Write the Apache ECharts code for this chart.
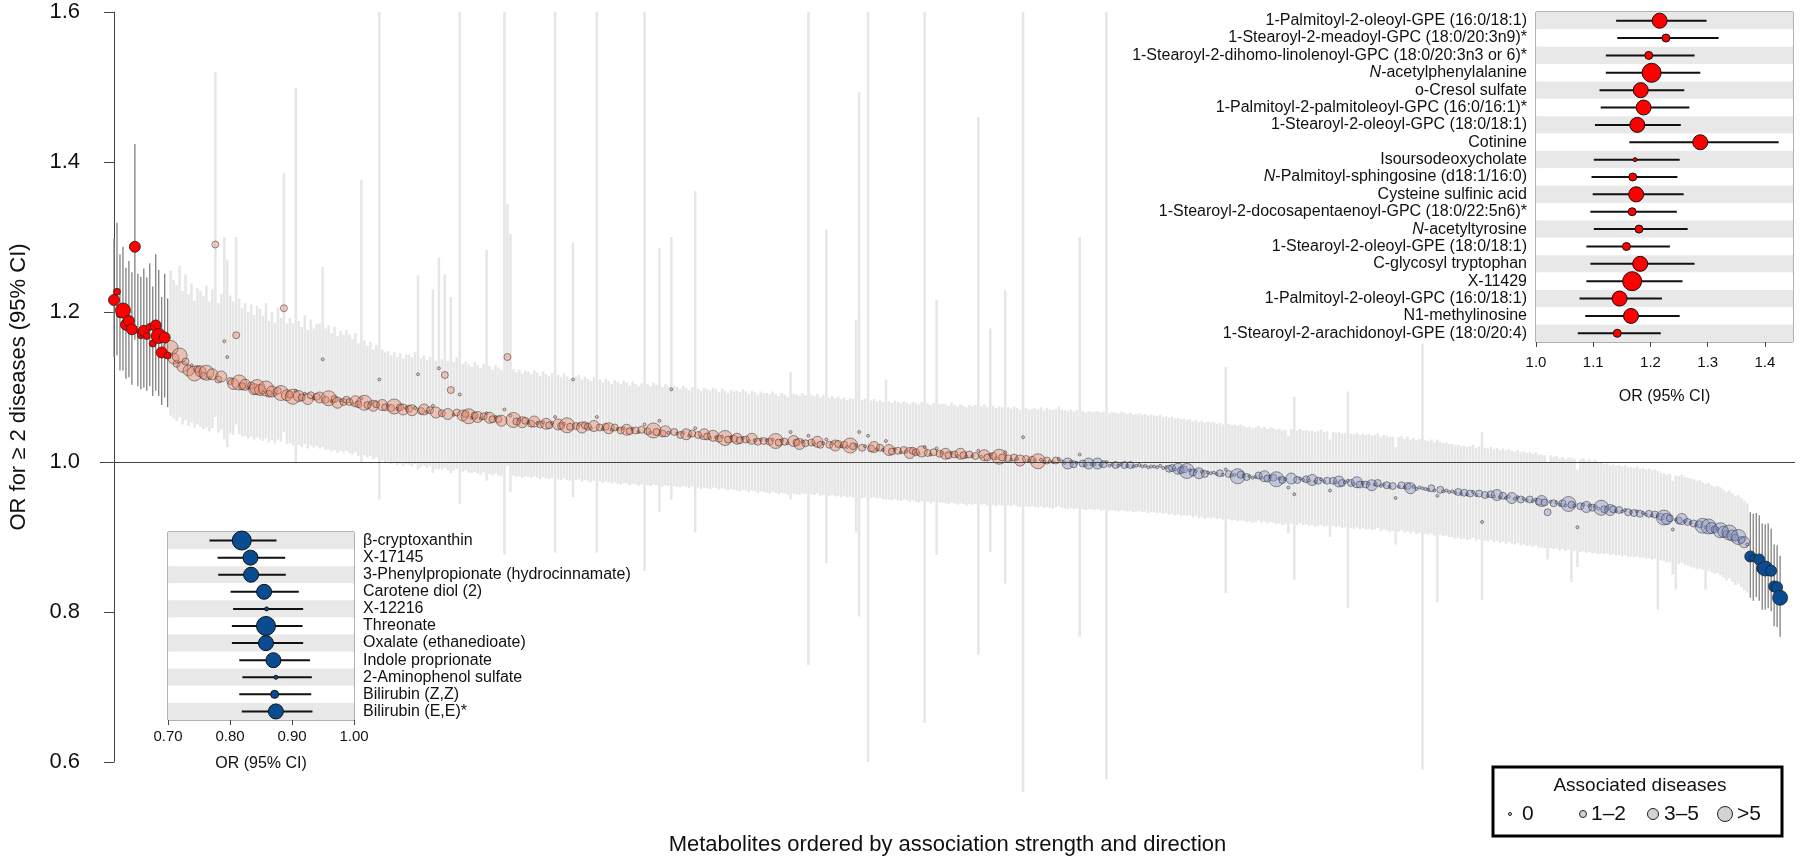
<!DOCTYPE html>
<html><head><meta charset="utf-8">
<script src="https://cdn.jsdelivr.net/npm/echarts@6.0.0/dist/echarts.min.js"></script>
<style>html,body{margin:0;padding:0;background:#fff}#c{width:1800px;height:862px}</style>
</head><body><div id="c"></div>
<script>
// ---------- significant positive associations (top-right inset, also first points of main plot)
const posNames = ['1-Palmitoyl-2-oleoyl-GPE (16:0/18:1)','1-Stearoyl-2-meadoyl-GPC (18:0/20:3n9)*','1-Stearoyl-2-dihomo-linolenoyl-GPC (18:0/20:3n3 or 6)*','N-acetylphenylalanine','o-Cresol sulfate','1-Palmitoyl-2-palmitoleoyl-GPC (16:0/16:1)*','1-Stearoyl-2-oleoyl-GPC (18:0/18:1)','Cotinine','Isoursodeoxycholate','N-Palmitoyl-sphingosine (d18:1/16:0)','Cysteine sulfinic acid','1-Stearoyl-2-docosapentaenoyl-GPC (18:0/22:5n6)*','N-acetyltyrosine','1-Stearoyl-2-oleoyl-GPE (18:0/18:1)','C-glycosyl tryptophan','X-11429','1-Palmitoyl-2-oleoyl-GPC (16:0/18:1)','N1-methylinosine','1-Stearoyl-2-arachidonoyl-GPE (18:0/20:4)'];
const posOR = [1.216,1.227,1.197,1.202,1.183,1.188,1.177,1.287,1.173,1.169,1.175,1.168,1.180,1.158,1.182,1.168,1.146,1.166,1.142];
const posLo = [1.140,1.142,1.122,1.122,1.111,1.113,1.103,1.163,1.101,1.097,1.099,1.095,1.101,1.088,1.095,1.088,1.076,1.086,1.073];
const posHi = [1.298,1.319,1.277,1.287,1.259,1.268,1.253,1.424,1.251,1.247,1.258,1.246,1.265,1.234,1.277,1.256,1.220,1.251,1.218];
const posDz = [2,1,1,3,2,2,2,2,0,1,2,1,1,1,2,3,2,2,1];
const posTicks = [1.0,1.1,1.2,1.3,1.4];

// ---------- significant negative associations (bottom-left inset, also last points of main plot)
const negNames = ['β-cryptoxanthin','X-17145','3-Phenylpropionate (hydrocinnamate)','Carotene diol (2)','X-12216','Threonate','Oxalate (ethanedioate)','Indole proprionate','2-Aminophenol sulfate','Bilirubin (Z,Z)','Bilirubin (E,E)*'];
const negOR = [0.819,0.833,0.834,0.855,0.859,0.858,0.858,0.870,0.874,0.872,0.874];
const negLo = [0.767,0.780,0.781,0.801,0.805,0.803,0.803,0.815,0.820,0.815,0.819];
const negHi = [0.875,0.889,0.890,0.911,0.918,0.917,0.918,0.929,0.932,0.931,0.933];
const negDz = [3,2,2,2,0,3,2,2,0,1,2];
const negTicks = [0.7,0.8,0.9,1.0];

// ---------- remaining metabolites (ordered by association strength and direction)
const midOR = [
1.152,1.138,1.131,1.142,1.127,1.134,1.122,1.129,1.118,1.124,
1.121,1.115,1.119,1.112,1.117,1.290,1.110,1.114,1.161,1.140,
1.108,1.104,1.169,1.106,1.101,1.103,1.099,1.102,1.097,1.100,
1.096,1.093,1.098,1.091,1.094,1.090,1.095,1.092,1.205,1.089,
1.090,1.087,1.095,1.088,1.086,1.091,1.084,1.089,1.085,1.087,
1.086,1.137,1.083,1.085,1.081,1.084,1.079,1.082,1.080,1.083,
1.080,1.078,1.081,1.077,1.085,1.079,1.076,1.078,1.075,1.077,
1.110,1.076,1.073,1.075,1.072,1.074,1.071,1.073,1.070,1.072,
1.071,1.069,1.072,1.117,1.068,1.070,1.067,1.069,1.075,1.066,
1.125,1.065,1.116,1.064,1.096,1.063,1.066,1.090,1.062,1.064,
1.061,1.059,1.062,1.060,1.058,1.061,1.065,1.059,1.057,1.060,
1.057,1.055,1.070,1.140,1.062,1.056,1.054,1.056,1.053,1.055,
1.053,1.051,1.054,1.052,1.050,1.053,1.051,1.049,1.052,1.060,
1.050,1.048,1.051,1.049,1.047,1.110,1.048,1.050,1.046,1.049,
1.047,1.045,1.048,1.060,1.046,1.044,1.047,1.045,1.043,1.046,
1.044,1.042,1.045,1.043,1.041,1.044,1.042,1.040,1.043,1.050,
1.041,1.039,1.042,1.040,1.055,1.038,1.041,1.039,1.097,1.040,
1.038,1.036,1.039,1.037,1.035,1.038,1.045,1.036,1.034,1.037,
1.034,1.032,1.035,1.033,1.031,1.034,1.032,1.030,1.033,1.031,
1.031,1.029,1.032,1.030,1.028,1.031,1.029,1.027,1.030,1.028,
1.029,1.027,1.030,1.028,1.026,1.029,1.027,1.025,1.040,1.028,
1.026,1.024,1.027,1.025,1.035,1.026,1.024,1.027,1.023,1.025,
1.030,1.023,1.025,1.022,1.024,1.021,1.023,1.020,1.022,1.021,
1.022,1.040,1.019,1.021,1.035,1.018,1.020,1.017,1.019,1.016,
1.028,1.016,1.014,1.017,1.015,1.013,1.016,1.014,1.012,1.015,
1.013,1.011,1.014,1.020,1.012,1.010,1.013,1.018,1.011,1.012,
1.011,1.009,1.012,1.010,1.008,1.011,1.009,1.007,1.010,1.008,
1.008,1.015,1.007,1.009,1.006,1.010,1.008,1.005,1.007,1.006,
1.013,1.005,1.003,1.006,1.004,1.002,1.033,1.004,1.002,1.003,
1.002,1.001,1.003,1.000,1.002,1.001,1.000,1.002,1.004,1.001,
0.999,0.998,1.000,0.997,0.999,1.010,0.998,0.996,0.998,0.997,
0.997,0.998,0.996,0.997,1.000,0.995,0.997,0.996,0.995,0.997,
0.996,0.995,0.996,0.994,0.995,0.996,0.994,0.995,0.993,0.994,
0.994,0.993,0.995,0.992,0.993,0.991,0.992,0.990,0.991,0.989,
0.990,0.988,0.989,0.986,0.988,0.985,0.987,0.984,0.986,0.985,
0.986,0.984,0.985,0.983,0.990,0.984,0.982,0.983,0.981,0.983,
0.982,0.980,0.981,0.979,0.980,0.982,0.979,0.981,0.978,0.980,
0.979,0.977,0.978,0.976,0.977,0.966,0.978,0.957,0.976,0.978,
0.976,0.977,0.975,0.976,0.974,0.975,0.977,0.974,0.975,0.962,
0.975,0.973,0.974,0.972,0.973,0.975,0.972,0.971,0.973,0.970,
0.972,0.970,0.971,0.969,0.970,0.972,0.968,0.970,0.969,0.967,
0.968,0.952,0.967,0.969,0.966,0.968,0.965,0.967,0.964,0.966,
0.965,0.964,0.963,0.965,0.962,0.955,0.963,0.961,0.962,0.960,
0.961,0.959,0.960,0.958,0.959,0.957,0.958,0.960,0.956,0.958,
0.920,0.956,0.955,0.957,0.954,0.956,0.953,0.955,0.952,0.954,
0.952,0.951,0.953,0.950,0.951,0.949,0.950,0.948,0.950,0.947,
0.948,0.946,0.933,0.947,0.945,0.946,0.943,0.945,0.942,0.944,
0.943,0.942,0.913,0.941,0.943,0.940,0.942,0.939,0.941,0.938,
0.939,0.937,0.938,0.936,0.937,0.935,0.936,0.934,0.936,0.933,
0.933,0.932,0.934,0.931,0.932,0.930,0.931,0.929,0.930,0.928,
0.927,0.926,0.924,0.925,0.910,0.923,0.922,0.924,0.921,0.920,
0.919,0.918,0.916,0.917,0.915,0.913,0.914,0.912,0.910,0.911,
0.909,0.907,0.904,0.906,0.902,0.899,0.900,0.896,0.893,0.890];
const midLo = [
1.062,1.058,1.055,1.060,1.050,1.056,1.048,1.053,1.046,1.050,
1.047,1.044,1.046,1.041,1.045,1.060,1.039,1.043,1.030,1.020,
1.038,1.036,1.050,1.037,1.034,1.035,1.032,1.034,1.030,1.033,
1.030,1.028,1.031,1.026,1.029,1.025,1.030,1.027,1.040,1.024,
1.025,1.022,1.000,1.023,1.020,1.024,1.018,1.022,1.019,1.021,
1.018,1.020,1.016,1.017,1.014,1.016,1.012,1.015,1.013,1.015,
1.012,1.010,1.013,1.008,1.000,1.009,1.006,1.008,1.004,1.006,
0.950,1.002,0.999,1.001,0.997,1.000,0.996,0.998,0.995,0.997,
0.996,0.994,0.997,0.990,0.993,0.995,0.992,0.994,0.985,0.991,
0.990,0.990,0.992,0.989,0.985,0.988,0.991,0.944,0.987,0.989,
0.986,0.985,0.987,0.985,0.983,0.986,0.975,0.984,0.982,0.985,
0.982,0.981,0.876,0.995,0.960,0.982,0.980,0.981,0.979,0.981,
0.980,0.979,0.981,0.979,0.977,0.980,0.978,0.977,0.979,0.879,
0.977,0.976,0.978,0.976,0.975,0.953,0.976,0.977,0.974,0.976,
0.974,0.973,0.975,0.879,0.974,0.972,0.974,0.973,0.971,0.973,
0.971,0.970,0.972,0.971,0.969,0.971,0.970,0.968,0.970,0.855,
0.969,0.968,0.970,0.969,0.933,0.967,0.969,0.968,0.950,0.968,
0.967,0.966,0.968,0.967,0.965,0.967,0.906,0.966,0.964,0.966,
0.965,0.964,0.966,0.965,0.963,0.965,0.964,0.962,0.964,0.963,
0.962,0.961,0.963,0.962,0.960,0.962,0.961,0.959,0.961,0.960,
0.959,0.958,0.960,0.959,0.957,0.959,0.958,0.956,0.950,0.958,
0.957,0.956,0.958,0.957,0.729,0.957,0.956,0.958,0.955,0.956,
0.865,0.955,0.956,0.954,0.955,0.953,0.955,0.953,0.954,0.953,
0.906,0.794,0.952,0.953,0.600,0.952,0.953,0.951,0.952,0.950,
0.950,0.950,0.949,0.951,0.949,0.948,0.950,0.949,0.947,0.949,
0.947,0.946,0.948,0.652,0.947,0.945,0.947,0.876,0.946,0.946,
0.945,0.944,0.946,0.945,0.943,0.945,0.944,0.942,0.944,0.943,
0.944,0.743,0.943,0.944,0.942,0.880,0.943,0.941,0.943,0.942,
0.838,0.942,0.941,0.943,0.941,0.940,0.560,0.941,0.940,0.941,
0.940,0.939,0.941,0.939,0.940,0.939,0.938,0.940,0.941,0.939,
0.938,0.937,0.939,0.937,0.938,0.767,0.937,0.936,0.937,0.937,
0.936,0.937,0.935,0.936,0.577,0.935,0.936,0.935,0.934,0.936,
0.935,0.934,0.935,0.933,0.934,0.935,0.933,0.934,0.932,0.933,
0.933,0.932,0.933,0.931,0.932,0.930,0.931,0.929,0.930,0.928,
0.929,0.928,0.929,0.926,0.928,0.925,0.927,0.924,0.926,0.925,
0.926,0.924,0.925,0.923,0.825,0.924,0.922,0.923,0.921,0.922,
0.922,0.920,0.921,0.919,0.920,0.922,0.919,0.921,0.918,0.920,
0.919,0.917,0.918,0.916,0.917,0.905,0.918,0.843,0.916,0.918,
0.916,0.917,0.915,0.916,0.914,0.915,0.916,0.914,0.915,0.900,
0.915,0.913,0.914,0.912,0.913,0.805,0.912,0.911,0.913,0.910,
0.912,0.910,0.911,0.909,0.910,0.912,0.908,0.910,0.909,0.907,
0.908,0.890,0.907,0.909,0.906,0.908,0.905,0.907,0.904,0.906,
0.590,0.904,0.903,0.905,0.902,0.813,0.903,0.901,0.902,0.900,
0.900,0.898,0.899,0.897,0.898,0.896,0.897,0.899,0.895,0.897,
0.816,0.895,0.894,0.896,0.893,0.895,0.892,0.894,0.891,0.893,
0.891,0.890,0.892,0.889,0.890,0.888,0.889,0.887,0.889,0.886,
0.886,0.885,0.870,0.885,0.884,0.885,0.882,0.884,0.881,0.883,
0.840,0.881,0.860,0.880,0.881,0.879,0.880,0.878,0.879,0.877,
0.878,0.877,0.878,0.876,0.877,0.875,0.876,0.874,0.876,0.873,
0.874,0.873,0.874,0.872,0.873,0.871,0.872,0.870,0.871,0.803,
0.869,0.868,0.866,0.867,0.850,0.830,0.864,0.866,0.863,0.862,
0.860,0.859,0.857,0.858,0.856,0.830,0.855,0.853,0.851,0.852,
0.849,0.846,0.842,0.845,0.840,0.836,0.838,0.833,0.829,0.826];
const midHi = [
1.255,1.243,1.236,1.262,1.228,1.250,1.224,1.238,1.215,1.232,
1.228,1.221,1.235,1.214,1.230,1.520,1.212,1.224,1.300,1.270,
1.222,1.214,1.300,1.218,1.205,1.212,1.200,1.210,1.196,1.208,
1.204,1.195,1.212,1.188,1.200,1.186,1.206,1.192,1.385,1.185,
1.192,1.185,1.499,1.188,1.180,1.196,1.176,1.190,1.178,1.184,
1.185,1.260,1.178,1.182,1.172,1.180,1.168,1.175,1.170,1.176,
1.170,1.164,1.172,1.158,1.376,1.162,1.155,1.160,1.150,1.156,
1.600,1.150,1.146,1.148,1.142,1.147,1.140,1.145,1.138,1.143,
1.143,1.140,1.147,1.249,1.138,1.142,1.136,1.140,1.230,1.135,
1.273,1.137,1.250,1.135,1.220,1.133,1.139,1.600,1.131,1.134,
1.130,1.127,1.133,1.129,1.125,1.131,1.283,1.128,1.123,1.129,
1.126,1.123,1.600,1.344,1.304,1.124,1.120,1.123,1.118,1.122,
1.120,1.117,1.122,1.119,1.115,1.121,1.117,1.114,1.119,1.600,
1.116,1.113,1.118,1.114,1.111,1.293,1.114,1.116,1.110,1.114,
1.111,1.108,1.113,1.600,1.110,1.106,1.111,1.108,1.104,1.109,
1.107,1.104,1.109,1.106,1.102,1.107,1.104,1.101,1.105,1.600,
1.104,1.101,1.106,1.103,1.285,1.100,1.104,1.101,1.300,1.102,
1.100,1.098,1.102,1.099,1.096,1.100,1.361,1.098,1.095,1.099,
1.097,1.095,1.099,1.097,1.093,1.098,1.095,1.092,1.096,1.094,
1.095,1.093,1.097,1.094,1.091,1.095,1.093,1.090,1.094,1.092,
1.092,1.090,1.094,1.091,1.088,1.092,1.090,1.087,1.120,1.091,
1.090,1.088,1.092,1.089,1.600,1.090,1.088,1.091,1.086,1.089,
1.310,1.086,1.088,1.085,1.087,1.084,1.086,1.083,1.085,1.084,
1.190,1.493,1.083,1.085,1.600,1.082,1.084,1.081,1.083,1.080,
1.110,1.081,1.079,1.082,1.080,1.078,1.081,1.079,1.077,1.080,
1.079,1.077,1.080,1.600,1.078,1.076,1.079,1.216,1.077,1.078,
1.077,1.075,1.079,1.076,1.074,1.077,1.075,1.073,1.076,1.074,
1.076,1.460,1.074,1.077,1.073,1.178,1.075,1.072,1.074,1.073,
1.229,1.073,1.071,1.074,1.072,1.070,1.600,1.072,1.070,1.071,
1.072,1.070,1.073,1.069,1.072,1.070,1.069,1.071,1.074,1.070,
1.069,1.068,1.070,1.067,1.069,1.300,1.068,1.066,1.068,1.067,
1.067,1.068,1.066,1.067,1.600,1.065,1.067,1.066,1.065,1.067,
1.066,1.064,1.066,1.063,1.064,1.065,1.063,1.064,1.062,1.063,
1.062,1.061,1.063,1.060,1.061,1.059,1.060,1.058,1.059,1.057,
1.058,1.056,1.057,1.054,1.056,1.053,1.055,1.052,1.054,1.053,
1.053,1.051,1.052,1.050,1.127,1.051,1.049,1.050,1.048,1.050,
1.048,1.046,1.047,1.045,1.046,1.048,1.045,1.047,1.044,1.046,
1.045,1.043,1.044,1.042,1.043,1.035,1.044,1.087,1.042,1.044,
1.042,1.043,1.041,1.042,1.040,1.041,1.043,1.040,1.041,1.030,
1.040,1.039,1.040,1.038,1.039,1.094,1.038,1.037,1.039,1.036,
1.038,1.036,1.037,1.035,1.036,1.038,1.034,1.036,1.035,1.033,
1.034,1.020,1.033,1.035,1.031,1.034,1.030,1.032,1.029,1.031,
1.158,1.029,1.028,1.030,1.026,1.030,1.027,1.025,1.026,1.024,
1.024,1.022,1.023,1.021,1.022,1.020,1.021,1.023,1.019,1.021,
1.040,1.019,1.018,1.020,1.017,1.019,1.016,1.018,1.015,1.017,
1.015,1.014,1.016,1.013,1.014,1.012,1.013,1.011,1.013,1.010,
1.010,1.009,1.000,1.009,1.007,1.008,1.005,1.007,1.004,1.006,
1.006,1.004,0.990,1.003,1.005,1.002,1.004,1.001,1.003,1.000,
0.999,0.997,0.998,0.996,0.997,0.995,0.996,0.994,0.996,0.993,
0.993,0.992,0.994,0.991,0.992,0.990,0.991,0.989,0.990,0.988,
0.986,0.985,0.983,0.984,0.975,0.982,0.981,0.983,0.980,0.979,
0.978,0.977,0.975,0.976,0.973,0.971,0.972,0.969,0.967,0.968,
0.966,0.963,0.960,0.962,0.958,0.955,0.956,0.952,0.948,0.945];
const midDz = [
3,2,1,3,2,1,2,0,3,1, 2,1,3,0,2,1,1,2,0,0, 1,2,1,3,1,2,0,1,2,3, 2,0,3,1,2,0,1,3,1,2,
1,3,0,2,1,0,2,1,0,1, 2,0,1,3,0,1,2,0,1,1, 1,0,2,1,0,3,1,0,2,1, 0,2,1,0,1,3,0,1,2,0,
1,2,0,0,1,2,0,1,0,2, 0,1,1,2,1,0,1,0,2,1, 3,0,1,2,0,1,0,2,1,0, 1,2,0,1,0,3,1,0,2,1,
0,1,2,0,1,0,2,1,0,0, 2,1,0,3,1,0,1,0,2,1, 1,0,2,0,1,0,1,2,0,1, 0,1,0,2,1,0,1,0,1,0,
1,0,3,1,0,1,2,0,0,1, 0,1,0,2,0,1,0,1,0,2, 1,0,2,0,1,0,3,1,0,1, 2,1,0,1,0,2,0,1,0,1,
0,1,0,3,1,0,1,0,0,2, 1,2,0,1,0,1,0,2,1,0, 0,1,0,2,1,0,1,0,3,1, 0,0,1,0,0,1,2,0,1,0,
0,2,1,0,1,0,1,0,2,1, 1,0,2,0,1,0,1,0,1,0, 2,1,0,1,0,2,1,0,1,0, 1,0,0,2,1,0,1,0,3,1,
0,1,0,1,0,2,0,1,0,1, 0,3,0,0,1,0,0,1,0,0, 0,2,0,1,0,0,1,0,2,0, 0,2,0,1,0,0,0,1,0,0,
1,0,1,0,0,0,0,0,0,0, 0,0,0,0,0,1,1,0,2,1, 1,3,0,1,0,2,0,1,0,0, 0,0,1,0,0,1,0,0,3,1,
0,1,0,0,0,1,0,2,1,0, 1,3,0,1,0,0,2,0,1,0, 0,1,0,2,0,1,0,0,1,0, 1,0,2,1,0,0,1,0,2,1,
0,1,0,2,0,1,0,0,1,0, 1,0,0,1,0,1,2,0,0,0, 0,0,0,1,0,0,1,0,0,0, 0,0,1,0,1,0,1,0,0,1,
0,1,0,1,0,2,0,1,0,0, 2,0,0,1,0,0,1,0,0,1, 2,1,1,0,1,0,0,1,0,3, 1,0,0,1,0,2,0,1,0,0,
3,1,0,2,1,0,1,0,0,1, 0,1,0,1,0,0,1,0,1,0, 1,3,2,1,0,0,1,2,0,1, 0,1,0,1,3,0,3,2,1,0,
3,2,1,3,2,1,3,1,2,0];

const sizeClasses = ['0','1–2','3–5','>5'];

// ---------- style constants
const FONT = "'Liberation Sans', Arial, Helvetica, sans-serif";
const mainSizes = [3, 7, 11, 15];
const insetSizes = [4, 8, 15, 19];
const RED = '#ff0000', BLUE = '#0a4c92';

// ---------- assemble main-plot table
const negRev = a => a.slice().reverse();
const allOR = posOR.concat(midOR, negRev(negOR));
const allLo = posLo.concat(midLo, negRev(negLo));
const allHi = posHi.concat(midHi, negRev(negHi));
const allDz = posDz.concat(midDz, negRev(negDz));
const n = allOR.length;
const sigOf = i => i < posOR.length ? 1 : (i >= n - negOR.length ? 2 : 0);
const ciData = allOR.map((v, i) => [i, allLo[i], allHi[i], sigOf(i) ? 1 : 0]);
const ptsData = [], sigData = [];
allOR.forEach((v, i) => { const s = sigOf(i); (s ? sigData : ptsData).push([i, v, allDz[i], s]); });

const fmtName = s => { const m = /^N-(.*)$/.exec(s); return m ? '{it|N}{t|-' + m[1] + '}' : '{t|' + s + '}'; };
const rich = { it: { fontStyle: 'italic', fontSize: 16, color: '#111', fontFamily: FONT }, t: { fontSize: 16, color: '#111', fontFamily: FONT } };

const chart = echarts.init(document.getElementById('c'), null, { renderer: 'canvas' });

const lgX = [1510, 1583, 1653, 1725], lgTx = [1522, 1591, 1664, 1737];
const legendGraphic = [
  { type: 'rect', shape: { x: 1493, y: 767, width: 289, height: 69 }, style: { fill: '#fff', stroke: '#000', lineWidth: 3 }, z: 50 },
  { type: 'text', x: 1640, y: 786, style: { text: 'Associated diseases', fontSize: 19, fontFamily: FONT, fill: '#111', align: 'center', verticalAlign: 'middle' }, z: 51 }
];
sizeClasses.forEach((lab, k) => {
  legendGraphic.push({ type: 'circle', shape: { cx: lgX[k], cy: 814, r: mainSizes[k] / 2 }, style: { fill: '#d3d3d3', stroke: '#222', lineWidth: 1 }, z: 51 });
  legendGraphic.push({ type: 'text', x: lgTx[k], y: 814, style: { text: lab, fontSize: 21, fontFamily: FONT, fill: '#111', align: 'left', verticalAlign: 'middle' }, z: 51 });
});

const option = {
  animation: false,
  backgroundColor: '#fff',
  textStyle: { fontFamily: FONT },
  grid: [
    { left: 97, right: 5, top: 12, bottom: 100 },
    { left: 1536, top: 12, width: 257, height: 330, show: true, borderColor: '#666', borderWidth: 1 },
    { left: 168, top: 532, width: 186, height: 188, show: true, borderColor: '#666', borderWidth: 1 }
  ],
  xAxis: [
    { gridIndex: 0, type: 'value', min: -4.7, max: n - 1 + 5, axisLine: { show: false }, axisTick: { show: false }, axisLabel: { show: false }, splitLine: { show: false },
      name: 'Metabolites ordered by association strength and direction', nameLocation: 'middle', nameGap: 72, nameTextStyle: { fontSize: 22, color: '#111' } },
    { gridIndex: 1, type: 'value', min: 1.0, max: 1.449, axisLine: { show: false }, splitLine: { show: false },
      axisTick: { show: true, length: 5, lineStyle: { color: '#444' }, customValues: posTicks },
      axisLabel: { fontSize: 15, color: '#111', margin: 13, customValues: posTicks, formatter: v => v.toFixed(1) },
      name: 'OR (95% CI)', nameLocation: 'middle', nameGap: 47, nameTextStyle: { fontSize: 16, color: '#111' } },
    { gridIndex: 2, type: 'value', min: 0.7, max: 1.0, axisLine: { show: false }, splitLine: { show: false },
      axisTick: { show: true, length: 5, lineStyle: { color: '#444' }, customValues: negTicks },
      axisLabel: { fontSize: 15, color: '#111', margin: 9, customValues: negTicks, formatter: v => v.toFixed(2) },
      name: 'OR (95% CI)', nameLocation: 'middle', nameGap: 36, nameTextStyle: { fontSize: 16, color: '#111' } }
  ],
  yAxis: [
    { gridIndex: 0, type: 'value', min: 0.6, max: 1.6, interval: 0.2, splitLine: { show: false },
      axisLine: { show: true, lineStyle: { color: '#444', width: 1 } },
      axisTick: { show: true, length: 10, lineStyle: { color: '#444' } },
      axisLabel: { fontSize: 22, color: '#111', margin: 20, formatter: v => v.toFixed(1) },
      name: 'OR for ≥ 2 diseases (95% CI)', nameLocation: 'middle', nameGap: 70, nameTextStyle: { fontSize: 22, color: '#111' } },
    { gridIndex: 1, type: 'category', data: posNames, inverse: true, axisLine: { show: false }, axisTick: { show: false },
      axisLabel: { margin: 9, formatter: fmtName, rich: rich },
      splitArea: { show: true, areaStyle: { color: ['#e8e8e8', '#ffffff'] } } },
    { gridIndex: 2, type: 'category', data: negNames, inverse: true, position: 'right', axisLine: { show: false }, axisTick: { show: false },
      axisLabel: { margin: 9, formatter: fmtName, rich: rich },
      splitArea: { show: true, areaStyle: { color: ['#e8e8e8', '#ffffff'] } } }
  ],
  series: [
    { type: 'custom', xAxisIndex: 0, yAxisIndex: 0, z: 2, silent: true, data: ciData, encode: { x: 0, y: [1, 2] },
      renderItem: (params, api) => {
        const x = api.value(0);
        const a = api.coord([x, api.value(1)]), b = api.coord([x, api.value(2)]);
        const s = api.value(3);
        return { type: 'line', shape: { x1: a[0], y1: a[1], x2: b[0], y2: b[1] },
          style: { stroke: s ? '#808080' : '#e6e6e6', lineWidth: s ? 1.3 : 2.5 } };
      },
      markLine: { silent: true, symbol: 'none', label: { show: false }, lineStyle: { color: '#444', width: 1, type: 'solid' }, data: [{ yAxis: 1 }] } },
    { type: 'scatter', xAxisIndex: 0, yAxisIndex: 0, z: 4, silent: true, data: ptsData,
      symbolSize: d => mainSizes[d[2]],
      itemStyle: { borderColor: '#222', borderWidth: 0.6,
        color: p => p.data[1] >= 1 ? 'rgba(232,130,100,0.5)' : 'rgba(135,145,195,0.5)' } },
    { type: 'scatter', xAxisIndex: 0, yAxisIndex: 0, z: 5, silent: true, data: sigData,
      symbolSize: d => mainSizes[d[2]],
      itemStyle: { borderColor: '#222', borderWidth: 0.8, opacity: 1, color: p => p.data[3] === 1 ? RED : BLUE } },
    // top-right inset
    { type: 'custom', xAxisIndex: 1, yAxisIndex: 1, z: 12, silent: true,
      data: posNames.map((nm, k) => [posLo[k], k, posHi[k]]), encode: { x: [0, 2], y: 1 },
      renderItem: (params, api) => {
        const a = api.coord([api.value(0), api.value(1)]), b = api.coord([api.value(2), api.value(1)]);
        return { type: 'line', shape: { x1: a[0], y1: a[1], x2: b[0], y2: b[1] }, style: { stroke: '#111', lineWidth: 2 } };
      } },
    { type: 'scatter', xAxisIndex: 1, yAxisIndex: 1, z: 13, silent: true,
      data: posNames.map((nm, k) => [posOR[k], k, posDz[k]]),
      symbolSize: d => insetSizes[d[2]], itemStyle: { color: RED, borderColor: '#111', borderWidth: 1, opacity: 1 } },
    // bottom-left inset
    { type: 'custom', xAxisIndex: 2, yAxisIndex: 2, z: 12, silent: true,
      data: negNames.map((nm, k) => [negLo[k], k, negHi[k]]), encode: { x: [0, 2], y: 1 },
      renderItem: (params, api) => {
        const a = api.coord([api.value(0), api.value(1)]), b = api.coord([api.value(2), api.value(1)]);
        return { type: 'line', shape: { x1: a[0], y1: a[1], x2: b[0], y2: b[1] }, style: { stroke: '#111', lineWidth: 2 } };
      } },
    { type: 'scatter', xAxisIndex: 2, yAxisIndex: 2, z: 13, silent: true,
      data: negNames.map((nm, k) => [negOR[k], k, negDz[k]]),
      symbolSize: d => insetSizes[d[2]], itemStyle: { color: BLUE, borderColor: '#111', borderWidth: 1, opacity: 1 } }
  ],
  graphic: legendGraphic
};
chart.setOption(option);
</script></body></html>
